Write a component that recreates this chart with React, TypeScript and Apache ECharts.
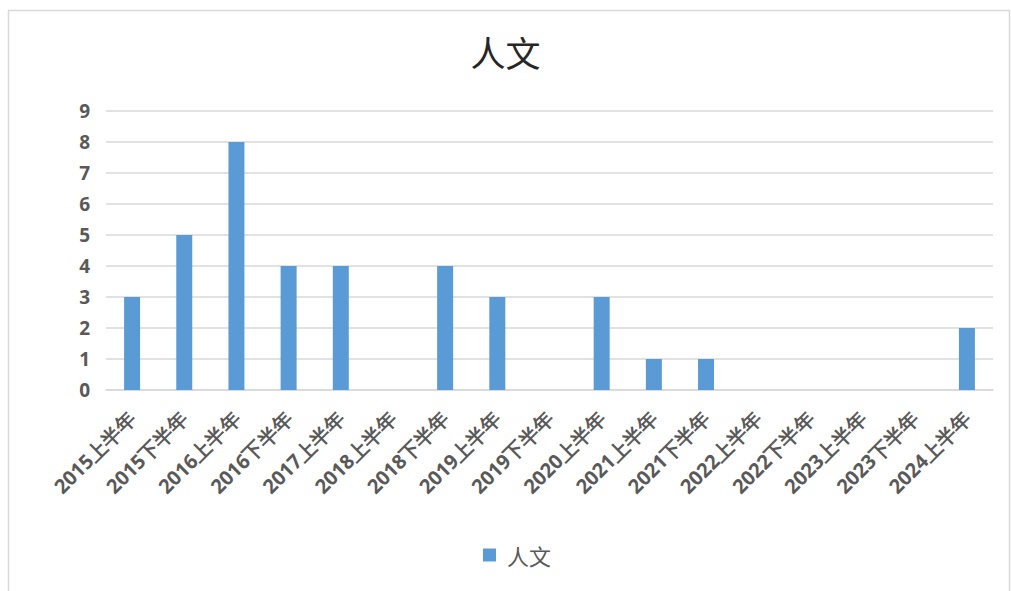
import React, { useEffect, useRef } from "react";
import * as echarts from "echarts";

const categories = [
  "2015上半年", "2015下半年", "2016上半年", "2016下半年", "2017上半年",
  "2018上半年", "2018下半年", "2019上半年", "2019下半年", "2020上半年",
  "2021上半年", "2021下半年", "2022上半年", "2022下半年", "2023上半年",
  "2023下半年", "2024上半年",
];
const values = [3, 5, 8, 4, 4, 0, 4, 3, 0, 3, 1, 1, 0, 0, 0, 0, 2];
const seriesName = "人文";
const titleText = "人文";

export default function App() {
  const ref = useRef<HTMLDivElement>(null);
  useEffect(() => {
    if (!ref.current) return;
    const chart = echarts.init(ref.current, null, { renderer: "svg" });
    chart.setOption({
      animation: false,
      backgroundColor: "#ffffff",
      title: {
        text: titleText,
        left: "center",
        top: 29,
        textStyle: {
          fontFamily: "Noto Sans CJK SC",
          fontWeight: "normal",
          fontSize: 35,
          color: "#262626",
        },
      },
      graphic: [
        {
          type: "rect",
          shape: { x: 8.5, y: 10.5, width: 1001, height: 620 },
          style: { fill: "none", stroke: "#d9d9d9", lineWidth: 1.5 },
          silent: true,
        },
      ],
      legend: {
        bottom: 20,
        left: 478,
        itemWidth: 13,
        itemHeight: 13,
        itemGap: 10,
        icon: "rect",
        textStyle: {
          fontFamily: "Noto Sans CJK SC",
          fontSize: 22,
          color: "#595959",
          padding: [0, 0, 0, 6],
        },
        data: [seriesName],
      },
      grid: { left: 106, right: 18, top: 111, bottom: 201, containLabel: false },
      xAxis: {
        type: "category",
        data: categories,
        axisLine: { lineStyle: { color: "#d9d9d9", width: 1.5 } },
        axisTick: { show: false },
        axisLabel: {
          interval: 0,
          rotate: 45,
          margin: 25,
          fontFamily: "Open Sans",
          fontWeight: "bold",
          fontSize: 20,
          color: "#595959",
        },
      },
      yAxis: {
        type: "value",
        min: 0,
        max: 9,
        interval: 1,
        axisLine: { show: false },
        axisTick: { show: false },
        splitLine: { lineStyle: { color: "#d9d9d9", width: 1.5 } },
        axisLabel: {
          margin: 16,
          fontFamily: "Open Sans",
          fontWeight: "bold",
          fontSize: 19,
          color: "#595959",
        },
      },
      series: [
        {
          name: seriesName,
          type: "bar",
          data: values,
          barWidth: 16,
          itemStyle: { color: "#5b9bd5" },
        },
      ],
    });
    return () => chart.dispose();
  }, []);
  return (
    <div
      ref={ref}
      style={{ position: "fixed", left: 0, top: 0, width: 1011, height: 591 }}
    />
  );
}
